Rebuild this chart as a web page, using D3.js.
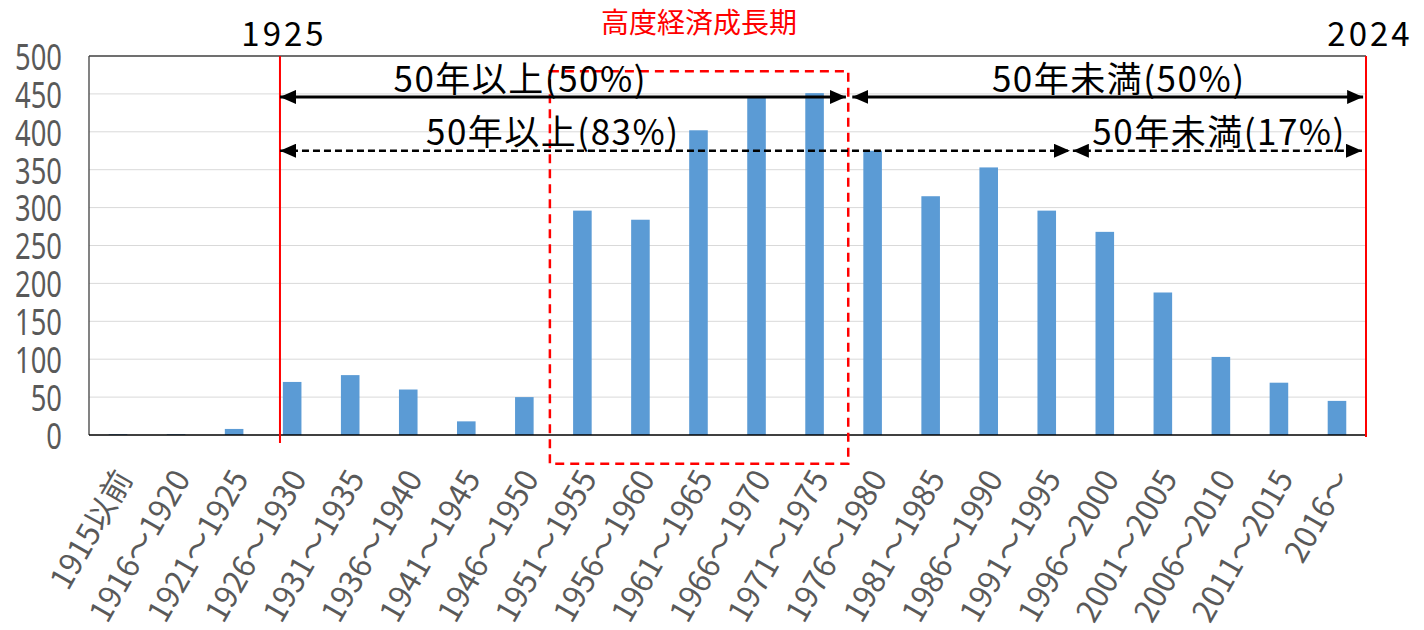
<!DOCTYPE html>
<meta charset="utf-8">
<style>
body { margin: 0; background: #fff; }
.chart text { font-family: "Noto Sans CJK JP", "Noto Sans", sans-serif; }
.grid line { stroke: #d9d9d9; stroke-width: 1; }
.bar { fill: #5b9bd5; }
.axis path { display: none; }
.axis text { fill: #595959; }
</style>

<svg class="chart"></svg>

<script src="https://cdn.jsdelivr.net/npm/d3@7/dist/d3.min.js"></script>

<script>
// categories (construction period) and counts
var periods = ["1915以前", "1916～1920", "1921～1925", "1926～1930", "1931～1935",
  "1936～1940", "1941～1945", "1946～1950", "1951～1955", "1956～1960",
  "1961～1965", "1966～1970", "1971～1975", "1976～1980", "1981～1985",
  "1986～1990", "1991～1995", "1996～2000", "2001～2005", "2006～2010",
  "2011～2015", "2016～"];
var counts = [1, 1, 8, 70, 79, 60, 18, 50, 296, 284, 402, 445, 451, 375, 315,
  353, 296, 268, 188, 103, 69, 45];
var yTicks = [0, 50, 100, 150, 200, 250, 300, 350, 400, 450, 500];

// annotation positions in category-index units, heights in data units
var yearMarks = [{label: "1925", pos: 3.29}, {label: "2024", pos: 22}];
var arrows = [
  {from: 3.29, to: 13.04, v: 446, dashed: false},
  {from: 13.15, to: 21.95, v: 446, dashed: false},
  {from: 3.29, to: 16.9, v: 375, dashed: true},
  {from: 16.95, to: 21.93, v: 375, dashed: true}
];
var arrowLabels = [
  {text: "50年以上(50%)", pos: 7.43, v: 453},
  {text: "50年未満(50%)", pos: 17.74, v: 453},
  {text: "50年以上(83%)", pos: 7.99, v: 383},
  {text: "50年未満(17%)", pos: 19.47, v: 383}
];
var boomBox = {from: 7.94, to: 13.08, top: 480, bottom: -38, label: "高度経済成長期", labelV: 530};

var W = 1424, H = 630;
var margin = {top: 56, right: 58, bottom: 195, left: 89},
    width = W - margin.left - margin.right,
    height = H - margin.top - margin.bottom;

var svg = d3.select(".chart").attr("width", W).attr("height", H);

var defs = svg.append("defs");
["start", "end"].forEach(function(k) {
  defs.append("marker")
    .attr("id", "arrow-" + k)
    .attr("markerUnits", "userSpaceOnUse")
    .attr("viewBox", "0 0 16 14")
    .attr("refX", k == "end" ? 16 : 0).attr("refY", 7)
    .attr("markerWidth", 16).attr("markerHeight", 14)
    .attr("orient", "auto")
    .append("path")
    .attr("d", k == "end" ? "M0,0 L16,7 L0,14 Z" : "M16,0 L0,7 L16,14 Z")
    .attr("fill", "#000");
});

var chart = svg.append("g")
  .attr("transform", "translate(" + margin.left + "," + margin.top + ")");

var x = d3.scaleBand()
  .domain(periods)
  .range([0, width])
  .paddingInner(0.68)
  .paddingOuter(0.34);

var xPos = d3.scaleLinear().domain([0, periods.length]).range([0, width]);

var y = d3.scaleLinear().domain([0, 500]).range([height, 0]);

// grid
chart.append("g").attr("class", "grid")
  .selectAll("line")
  .data(yTicks.filter(function(d) { return d > 0 && d < 500; }))
  .enter().append("line")
  .attr("x1", 0).attr("x2", width)
  .attr("y1", function(d) { return y(d); })
  .attr("y2", function(d) { return y(d); });

// bars
chart.selectAll(".bar")
  .data(counts)
  .enter().append("rect")
  .attr("class", "bar")
  .attr("x", function(d, i) { return x(periods[i]); })
  .attr("width", x.bandwidth())
  .attr("y", function(d) { return y(d); })
  .attr("height", function(d) { return height - y(d); });

// plot frame: top + left dark, bottom black
chart.append("line").attr("x1", 0).attr("x2", width).attr("y1", 0).attr("y2", 0)
  .attr("stroke", "#404040").attr("stroke-width", 1.3);
chart.append("line").attr("x1", 0).attr("x2", 0).attr("y1", 0).attr("y2", height)
  .attr("stroke", "#404040").attr("stroke-width", 1.3);
chart.append("line").attr("x1", 0).attr("x2", width).attr("y1", height).attr("y2", height)
  .attr("stroke", "#000").attr("stroke-width", 1.5);

// y axis
var yAxis = chart.append("g").attr("class", "y axis")
  .call(d3.axisLeft(y).tickValues(yTicks).tickSize(0).tickPadding(0));
yAxis.selectAll("text")
  .style("font-family", "'Noto Sans', sans-serif")
  .style("font-size", "37px")
  .attr("x", -27 / 0.74)
  .attr("dy", "0.36em")
  .attr("transform", "scale(0.74,1)");

// x axis
var xAxis = chart.append("g").attr("class", "x axis")
  .attr("transform", "translate(0," + height + ")")
  .call(d3.axisBottom(x).tickSize(0));
xAxis.selectAll("text")
  .style("font-size", "31px")
  .attr("text-anchor", "end")
  .attr("x", 0).attr("y", 0)
  .attr("dy", "0.35em")
  .attr("transform", "translate(6,38) rotate(-60)");

// high growth period box
chart.append("rect")
  .attr("x", xPos(boomBox.from))
  .attr("y", y(boomBox.top))
  .attr("width", xPos(boomBox.to) - xPos(boomBox.from))
  .attr("height", y(boomBox.bottom) - y(boomBox.top))
  .attr("fill", "none")
  .attr("stroke", "#ff0000")
  .attr("stroke-width", 2.5)
  .attr("stroke-dasharray", "9,6");
chart.append("text")
  .attr("x", xPos((boomBox.from + boomBox.to) / 2))
  .attr("y", y(boomBox.labelV))
  .attr("text-anchor", "middle")
  .attr("fill", "#ff0000")
  .style("font-size", "28px")
  .text(boomBox.label);

// red year lines
chart.selectAll(".yearline")
  .data(yearMarks)
  .enter().append("line")
  .attr("x1", function(d) { return xPos(d.pos); })
  .attr("x2", function(d) { return xPos(d.pos); })
  .attr("y1", 0)
  .attr("y2", function(d, i) { return height + (i == 0 ? 8 : 2); })
  .attr("stroke", "#ff0000")
  .attr("stroke-width", 2);
chart.selectAll(".yearlabel")
  .data(yearMarks)
  .enter().append("text")
  .attr("x", function(d) { return xPos(d.pos) + 4; })
  .attr("y", -10)
  .attr("text-anchor", "middle")
  .attr("fill", "#000")
  .style("font-size", "33px")
  .style("letter-spacing", "3px")
  .text(function(d) { return d.label; });

// arrows
chart.selectAll(".arrow")
  .data(arrows)
  .enter().append("line")
  .attr("x1", function(d) { return xPos(d.from); })
  .attr("x2", function(d) { return xPos(d.to); })
  .attr("y1", function(d) { return y(d.v); })
  .attr("y2", function(d) { return y(d.v); })
  .attr("stroke", "#000")
  .attr("stroke-width", function(d) { return d.dashed ? 2.5 : 3; })
  .attr("stroke-dasharray", function(d) { return d.dashed ? "7,4" : null; })
  .attr("marker-start", "url(#arrow-start)")
  .attr("marker-end", "url(#arrow-end)");

chart.selectAll(".arrowlabel")
  .data(arrowLabels)
  .enter().append("text")
  .attr("x", function(d) { return xPos(d.pos); })
  .attr("y", function(d) { return y(d.v); })
  .attr("text-anchor", "middle")
  .attr("fill", "#000")
  .style("font-size", "35px")
  .style("letter-spacing", "1.5px")
  .text(function(d) { return d.text; });
</script>
